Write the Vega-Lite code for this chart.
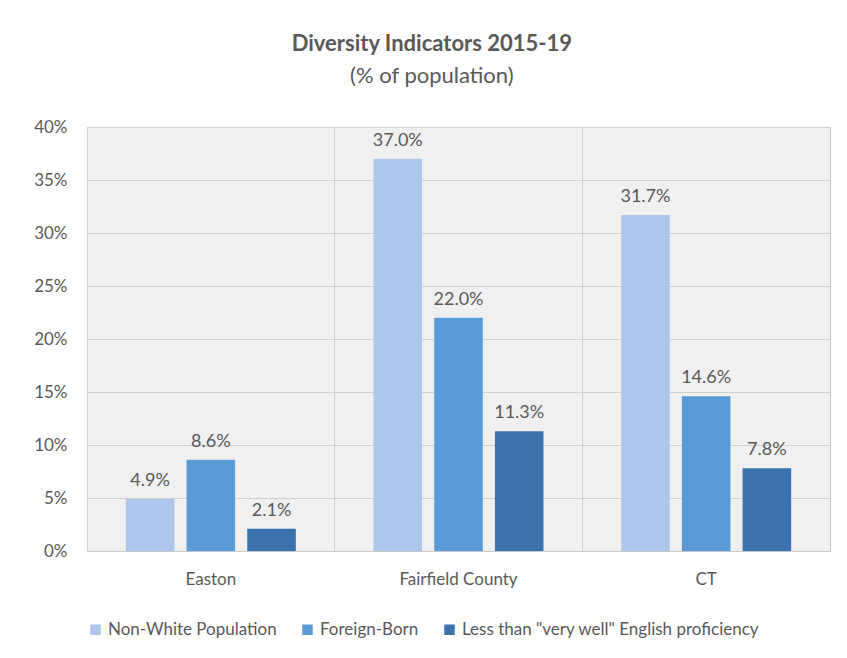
{
  "$schema": "https://vega.github.io/schema/vega-lite/v6.json",
  "width": 847,
  "height": 658,
  "autosize": {"type": "fit", "contains": "padding"},
  "padding": {"left": 33, "top": 33, "right": 17, "bottom": 20},
  "background": "white",
  "title": {
    "text": "Diversity Indicators 2015-19",
    "subtitle": "(% of population)",
    "anchor": "middle",
    "frame": "bounds",
    "font": "Lato",
    "fontSize": 22,
    "fontWeight": "bold",
    "color": "#595959",
    "subtitleFont": "Lato",
    "subtitleFontSize": 22,
    "subtitleColor": "#595959",
    "subtitlePadding": 10,
    "offset": 30
  },
  "config": {
    "view": {"fill": "#f0f0f0", "stroke": "#c8c8c8"},
    "font": "Lato"
  },
  "data": {
    "values": [
      {"region": "Easton", "indicator": "Non-White Population", "value": 0.049},
      {"region": "Easton", "indicator": "Foreign-Born", "value": 0.086},
      {"region": "Easton", "indicator": "Less than \"very well\" English proficiency", "value": 0.021},
      {"region": "Fairfield County", "indicator": "Non-White Population", "value": 0.37},
      {"region": "Fairfield County", "indicator": "Foreign-Born", "value": 0.22},
      {"region": "Fairfield County", "indicator": "Less than \"very well\" English proficiency", "value": 0.113},
      {"region": "CT", "indicator": "Non-White Population", "value": 0.317},
      {"region": "CT", "indicator": "Foreign-Born", "value": 0.146},
      {"region": "CT", "indicator": "Less than \"very well\" English proficiency", "value": 0.078}
    ]
  },
  "encoding": {
    "x": {
      "field": "region",
      "type": "nominal",
      "sort": ["Easton", "Fairfield County", "CT"],
      "scale": {"paddingInner": 0, "paddingOuter": 0},
      "axis": {
        "title": null,
        "labelAngle": 0,
        "labelFontSize": 17,
        "labelColor": "#595959",
        "labelPadding": 20,
        "ticks": false,
        "domain": true,
        "domainColor": "#c8c8c8",
        "grid": true,
        "gridColor": "#d0d0d0",
        "bandPosition": 0
      }
    },
    "xOffset": {
      "field": "indicator",
      "type": "nominal",
      "sort": ["Non-White Population", "Foreign-Born", "Less than \"very well\" English proficiency"],
      "scale": {"paddingInner": 0.2, "paddingOuter": 0.64}
    },
    "y": {
      "field": "value",
      "type": "quantitative",
      "scale": {"domain": [0, 0.4]},
      "axis": {
        "title": null,
        "format": ".0%",
        "values": [0, 0.05, 0.1, 0.15, 0.2, 0.25, 0.3, 0.35, 0.4],
        "labelFontSize": 17,
        "labelColor": "#595959",
        "labelPadding": 20,
        "ticks": false,
        "domain": false,
        "gridColor": "#d0d0d0"
      }
    }
  },
  "layer": [
    {
      "mark": {"type": "bar"},
      "encoding": {
        "color": {
          "field": "indicator",
          "type": "nominal",
          "sort": ["Non-White Population", "Foreign-Born", "Less than \"very well\" English proficiency"],
          "scale": {"range": ["#adc6ea", "#5b9bd5", "#3c72ae"]},
          "legend": {
            "orient": "bottom",
            "direction": "horizontal",
            "title": null,
            "symbolType": "square",
            "symbolSize": 110,
            "symbolStrokeWidth": 0,
            "labelFontSize": 17,
            "labelColor": "#595959",
            "labelLimit": 0,
            "columnPadding": 22,
            "offset": 34
          }
        }
      }
    },
    {
      "mark": {"type": "text", "baseline": "bottom", "dy": -9, "fontSize": 18, "color": "#595959"},
      "encoding": {
        "text": {"field": "value", "type": "quantitative", "format": ".1%"}
      }
    }
  ]
}
